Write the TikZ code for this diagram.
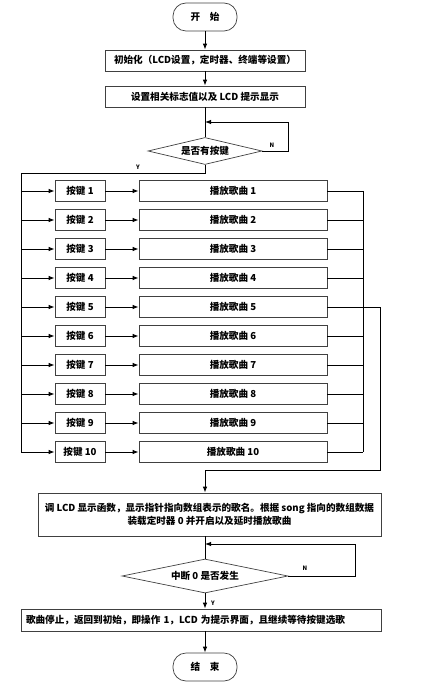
\documentclass[tikz,border=0pt]{standalone}
\usepackage{fontspec}
\setmainfont{Noto Sans CJK SC}
\usetikzlibrary{shapes.geometric,arrows.meta}

\begin{document}
\begin{tikzpicture}[x=1pt,y=-1pt,
font=\fontsize{9.6}{12.5}\selectfont\bfseries,
box/.style={draw=black!75, line width=0.7pt, rectangle, minimum height=21pt, inner sep=1pt},
term/.style={draw=black!75, line width=0.7pt, rectangle, rounded corners=13pt, minimum width=64pt, minimum height=28pt},
decide/.style={draw=black!75, line width=0.7pt, diamond, shape aspect=4, inner sep=0pt},
arr/.style={-{Latex[length=6pt,width=4.5pt]}, line width=0.9pt},
ln/.style={line width=0.9pt},
lbl/.style={font=\fontsize{6}{7}\selectfont\bfseries, inner sep=1pt}
]
\useasboundingbox (0,0) rectangle (422,684);

\node[term] (start) at (205,17) {开\quad 始};
\node[box, minimum width=200pt] (init) at (205,60.5) {初始化（LCD设置，定时器、终端等设置）};
\node[box, minimum width=200pt] (set) at (205,96.5) {设置相关标志值以及 LCD 提示显示};
\node[decide, minimum width=114pt, minimum height=27pt] (ask) at (205,151) {是否有按键};

\draw[arr] (start) -- (init);
\draw[arr] (init) -- (set);
\draw[ln] (set) -- (ask);

% wait loop
\coordinate (j1) at (205,122);
\draw[arr] (ask.east) -- ++(26,0) |- (j1);
\node[lbl] at (272,145) {N};

% key rows
\coordinate (lt) at (21,173);
\coordinate (rt) at (363,191);
\foreach \i in {1,...,10} {
  \node[box, minimum width=50pt] (k\i) at (80,{162+29*\i}) {按键 \i};
  \node[box, minimum width=188pt] (s\i) at (233,{162+29*\i}) {播放歌曲 \i};
  \draw[arr] (lt |- k\i) -- (k\i);
  \draw[arr] (k\i) -- (s\i);
}
\foreach \i in {1,2,3,4,6,7,8,9,10}
  \draw[ln] (s\i.east) -- (rt |- s\i.east);
\draw[ln] (rt |- s1.east) -- (rt |- s10.east);

\draw[ln] (ask.south) -- (ask.south |- lt) -- (lt) -- (lt |- k10);
\node[lbl] at (138,167) {Y};

% song 5 goes on
\node[box, minimum width=343pt, minimum height=43pt, align=center] (call) at (209.5,514.5)
  {调 LCD 显示函数，显示指针指向数组表示的歌名。根据 song 指向的数组数据\\装载定时器 0 并开启以及延时播放歌曲};
\coordinate (r5) at (380,470);
\draw[arr] (s5.east) -| (r5) -| (call.north -| ask.south);

\node[decide, minimum width=166pt, minimum height=34pt] (irq) at (205,576) {中断 0 是否发生};
\draw[ln] (call.south -| irq.north) -- (irq.north);
\coordinate (j2) at (205,544);
\draw[arr] (irq.east) -- ++(67,0) |- (j2);
\node[lbl] at (305,568) {N};

\node[box, minimum width=360pt, minimum height=22pt, text width=350pt, align=left] (stop) at (201,620)
  {歌曲停止，返回到初始，即操作 1，LCD 为提示界面，且继续等待按键选歌};
\draw[arr] (irq.south) -- (irq.south |- stop.north);
\node[lbl] at (213,603) {Y};

\node[term] (fin) at (205,667) {结\quad 束};
\draw[arr] (stop.south -| fin.north) -- (fin);
\end{tikzpicture}
\end{document}
